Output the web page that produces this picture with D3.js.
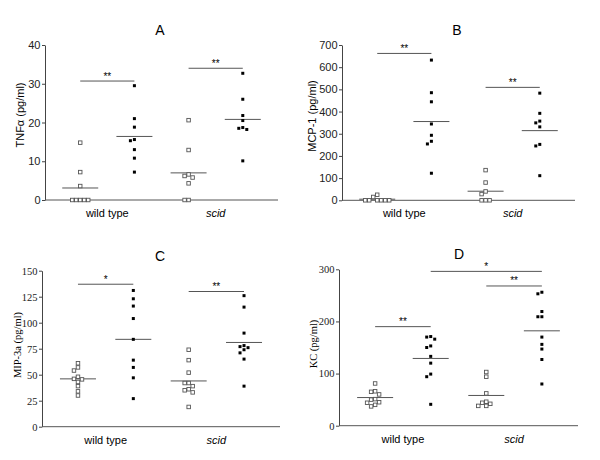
<!DOCTYPE html>
<html>
<head>
<meta charset="utf-8">
<script src="https://cdn.jsdelivr.net/npm/d3@7"></script>
<style>
body { margin: 0; background: #fff; }
svg { display: block; }
</style>
</head>
<body>
<svg id="chart" width="600" height="460"></svg>
<script>
// Labels
const groupLabels = ["wild type", "scid"];
const panelTitles = ["A", "B", "C", "D"];
const yLabels = ["TNFα (pg/ml)", "MCP-1 (pg/ml)", "MIP-3a (pg/ml)", "KC (pg/ml)"];
const yTicks = [
    [0, 10, 20, 30, 40],
    [0, 100, 200, 300, 400, 500, 600, 700],
    [0, 25, 50, 75, 100, 125, 150],
    [0, 100, 200, 300]
];

// TNF-alpha
const tnfWtCtrl = [14.8, 7.2, 3.6, 0, 0, 0, 0, 0];
const tnfWtInf = [29.5, 21, 18.8, 15.6, 15.3, 13, 10.8, 7.2];
const tnfScidCtrl = [20.6, 12.9, 6.6, 6.2, 5.8, 4.3, 0, 0];
const tnfScidInf = [32.7, 26, 21.8, 20.5, 18.7, 18.5, 18.2, 10.1];
const tnfMeans = [3.1, 16.4, 7.0, 20.8];
const tnfSig = [[0, 1, 30.7, "**"], [2, 3, 34, "**"]];

// MCP-1
const mcpWtCtrl = [25, 15, 0, 0, 0, 0, 0, 0];
const mcpWtInf = [632, 485, 444, 344, 293, 266, 254, 122];
const mcpScidCtrl = [136, 80, 40, 28, 0, 0, 0];
const mcpScidInf = [483, 392, 357, 349, 331, 252, 245, 111];
const mcpMeans = [5, 355, 41, 314];
const mcpSig = [[0, 1, 662, "**"], [2, 3, 509, "**"]];

// MIP-3a
const mipWtCtrl = [61, 57, 54, 48, 46, 45.5, 43, 39, 34, 30];
const mipWtInf = [131, 123, 116, 104, 84, 64, 57, 47, 27];
const mipScidCtrl = [74, 64, 52, 42, 42, 39, 36, 35, 33, 19];
const mipScidInf = [126, 115, 90, 78, 77, 76, 74, 71, 65, 39];
const mipMeans = [46, 84, 44, 81];
const mipSig = [[0, 1, 137, "*"], [2, 3, 130, "**"]];

// KC
const kcWtCtrl = [81, 66, 65, 60, 51, 50, 45, 44, 40, 37];
const kcWtInf = [171, 170, 166, 153, 150, 133, 120, 99, 94, 41];
const kcScidCtrl = [103, 94, 62, 46, 44, 42, 38, 38];
const kcScidInf = [256, 253, 219, 209, 209, 170, 156, 147, 127, 80];
const kcMeans = [54, 129, 58, 182];
const kcSig = [[0, 1, 190, "**"], [2, 3, 268, "**"], [1, 3, 296, "*"]];

const panelData = [
    { series: [tnfWtCtrl, tnfWtInf, tnfScidCtrl, tnfScidInf], means: tnfMeans, sig: tnfSig },
    { series: [mcpWtCtrl, mcpWtInf, mcpScidCtrl, mcpScidInf], means: mcpMeans, sig: mcpSig },
    { series: [mipWtCtrl, mipWtInf, mipScidCtrl, mipScidInf], means: mipMeans, sig: mipSig },
    { series: [kcWtCtrl, kcWtInf, kcScidCtrl, kcScidInf], means: kcMeans, sig: kcSig }
];

// where each panel sits on the page
const layout = [
    { x0: 45, x1: 278, yBase: 200, yTop: 45, serif: false, titleX: 160, labelX: 20, labelY: 115 },
    { x0: 342, x1: 575, yBase: 200.3, yTop: 45, serif: false, titleX: 457, labelX: 312, labelY: 116 },
    { x0: 42, x1: 280, yBase: 426.7, yTop: 270.7, serif: true, titleX: 160, labelX: 17, labelY: 345 },
    { x0: 339, x1: 578, yBase: 425.7, yTop: 269.3, serif: true, titleX: 459, labelX: 313, labelY: 344 }
];

const sans = "'Liberation Sans', Arial, sans-serif";
const serif = "'Liberation Serif', 'Times New Roman', serif";
const svg = d3.select("#chart");

// simple swarm: move a point sideways until it no longer overlaps an earlier one
function swarm(values, y, cx) {
    const size = 4, step = 4;
    const placed = [];
    values.forEach(v => {
        const py = y(v);
        let k = 0, dx = 0;
        while (placed.some(p => Math.abs(p.y - py) < size && Math.abs(p.x - (cx + dx)) < size)) {
            k++;
            dx = (k % 2 === 1 ? -1 : 1) * Math.ceil(k / 2) * step;
        }
        placed.push({ x: cx + dx, y: py });
    });
    return placed;
}

panelData.forEach((pd, i) => {
    const L = layout[i];
    const maxV = d3.max(yTicks[i]);
    const y = d3.scaleLinear().domain([0, maxV]).range([L.yBase, L.yTop]);
    const x = d3.scalePoint().domain([0, 1, 2, 3]).range([L.x0, L.x1]).padding(0.65);
    const g = svg.append("g");
    const tickFont = L.serif ? serif : sans;

    // y axis
    const yAxis = g.append("g")
        .attr("transform", `translate(${L.x0},0)`)
        .call(d3.axisLeft(y).tickValues(yTicks[i]).tickSize(3).tickSizeOuter(0).tickPadding(1.5));
    yAxis.selectAll("path, line").attr("stroke", "#444");
    yAxis.selectAll("text")
        .attr("fill", "#222")
        .style("font-family", tickFont)
        .style("font-size", L.serif ? "10.5px" : "11px");

    // x axis (plain line)
    g.append("line")
        .attr("x1", L.x0).attr("x2", L.x1)
        .attr("y1", L.yBase).attr("y2", L.yBase)
        .attr("stroke", "#555");

    // group labels
    groupLabels.forEach((lab, j) => {
        g.append("text")
            .attr("x", (x(j * 2) + x(j * 2 + 1)) / 2)
            .attr("y", L.yBase + 17)
            .attr("text-anchor", "middle")
            .style("font-family", sans)
            .style("font-size", "11px")
            .style("font-style", j === 1 ? "italic" : "normal")
            .text(lab);
    });

    // title
    g.append("text")
        .attr("x", L.titleX).attr("y", L.yTop - 10)
        .attr("text-anchor", "middle")
        .style("font-family", sans)
        .style("font-size", "14px")
        .text(panelTitles[i]);

    // y label
    g.append("text")
        .attr("transform", `translate(${L.labelX},${L.labelY}) rotate(-90)`)
        .attr("text-anchor", "middle")
        .attr("dy", "0.35em")
        .style("font-family", L.serif ? serif : sans)
        .style("font-size", L.serif ? "10.5px" : "11px")
        .text(yLabels[i]);

    // mean lines
    pd.means.forEach((m, k) => {
        g.append("line")
            .attr("x1", x(k) - 18).attr("x2", x(k) + 18)
            .attr("y1", y(m)).attr("y2", y(m))
            .attr("stroke", "#555");
    });

    // points
    pd.series.forEach((vals, k) => {
        const pts = swarm(vals, y, x(k));
        const open = k % 2 === 0;
        g.append("g").selectAll("rect")
            .data(pts)
            .enter().append("rect")
            .attr("x", d => d.x - (open ? 1.75 : 1.5))
            .attr("y", d => d.y - (open ? 1.75 : 1.5))
            .attr("width", open ? 3.5 : 3)
            .attr("height", open ? 3.5 : 3)
            .attr("fill", open ? "#fff" : "#000")
            .attr("stroke", open ? "#555" : "none")
            .attr("stroke-width", 0.9);
    });

    // significance bars
    pd.sig.forEach(s => {
        const [a, b, v, lab] = s;
        g.append("line")
            .attr("x1", x(a)).attr("x2", x(b))
            .attr("y1", y(v)).attr("y2", y(v))
            .attr("stroke", "#555");
        g.append("text")
            .attr("x", (x(a) + x(b)) / 2)
            .attr("y", y(v) - 1.5)
            .attr("text-anchor", "middle")
            .style("font-family", sans)
            .style("font-size", "10px")
            .text(lab);
    });
});
</script>
</body>
</html>
